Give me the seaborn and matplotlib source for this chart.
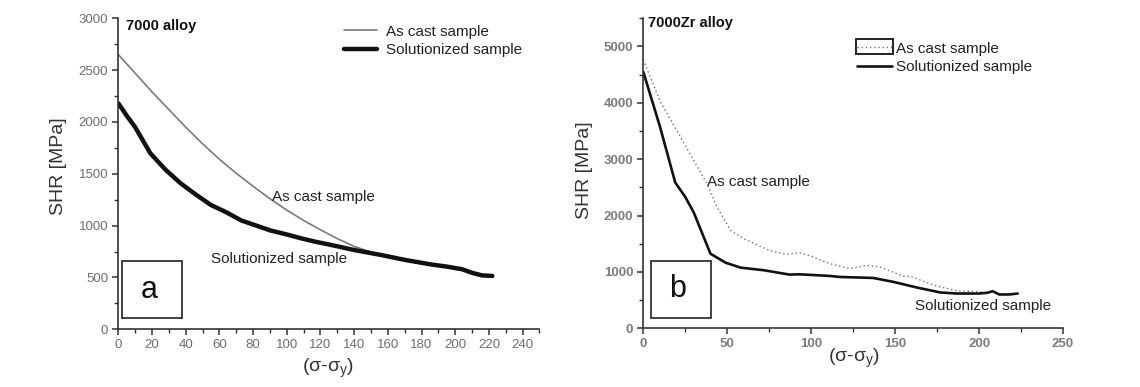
import matplotlib
matplotlib.use("Agg")
import matplotlib.pyplot as plt
from matplotlib.ticker import MultipleLocator
from matplotlib.patches import Rectangle
import seaborn as sns
import pandas as pd

# ---------------- data ----------------
# Panel a: 7000 alloy
a_cast_x = [0, 10, 20, 30, 40, 50, 60, 70, 80, 90, 100, 110, 120, 130, 140, 150, 156,
            170, 186, 195, 204, 210, 216, 222]
a_cast_y = [2650, 2470, 2290, 2120, 1950, 1790, 1640, 1505, 1380, 1260, 1150, 1050,
            960, 875, 800, 745, 717, 670, 625, 605, 580, 545, 520, 515]
a_sol_x = [0, 5, 10, 19, 28, 37, 46, 55, 64, 73, 82, 90, 100, 108, 117, 126, 140, 156,
           170, 186, 195, 204, 210, 216, 222]
a_sol_y = [2180, 2060, 1950, 1698, 1540, 1408, 1300, 1199, 1130, 1050, 1000, 955, 915, 880,
           845, 815, 765, 717, 670, 625, 605, 580, 545, 520, 515]

# Panel b: 7000Zr alloy
b_cast_x = [0, 10, 19, 28, 38, 44, 52, 60, 75, 85, 93, 100, 111, 123, 133, 141, 155, 159,
            173, 187, 200, 205]
b_cast_y = [4765, 4029, 3558, 3088, 2559, 2146, 1735, 1588, 1382, 1311, 1341, 1280, 1147,
            1059, 1117, 1087, 923, 923, 764, 664, 650, 630]
b_sol_x = [0, 10, 19, 25, 30, 40, 49, 58, 72, 87, 93, 111, 117, 137, 149, 163, 177, 187,
           200, 205, 208, 212, 218, 223]
b_sol_y = [4550, 3570, 2588, 2330, 2058, 1323, 1164, 1076, 1029, 953, 958, 929, 911, 893,
           823, 723, 635, 617, 617, 630, 658, 600, 600, 617]

legend_labels = ["As cast sample", "Solutionized sample"]
a_xticks_step, a_yticks_step = 20, 500
b_xticks_step, b_yticks_step = 50, 1000

# ---------------- style ----------------
sns.set_style("ticks")
plt.rcParams["font.family"] = ["Liberation Sans", "DejaVu Sans"]
plt.rcParams["mathtext.fontset"] = "custom"
plt.rcParams["mathtext.rm"] = "Liberation Sans"
plt.rcParams["mathtext.it"] = "Liberation Sans"

fig = plt.figure(figsize=(11.4, 3.87), dpi=100)
ax1 = fig.add_axes([0.1038, 0.149, 0.3694, 0.8037])
ax2 = fig.add_axes([0.5643, 0.1517, 0.3682, 0.801])

df_a = pd.concat([
    pd.DataFrame({"x": a_cast_x, "y": a_cast_y, "s": legend_labels[0]}),
    pd.DataFrame({"x": a_sol_x, "y": a_sol_y, "s": legend_labels[1]}),
])
df_b = pd.concat([
    pd.DataFrame({"x": b_cast_x, "y": b_cast_y, "s": legend_labels[0]}),
    pd.DataFrame({"x": b_sol_x, "y": b_sol_y, "s": legend_labels[1]}),
])

# panel a lines
sns.lineplot(data=df_a[df_a.s == legend_labels[0]], x="x", y="y", ax=ax1,
             color="#7a7a7a", lw=1.2, estimator=None, sort=False, label=legend_labels[0])
sns.lineplot(data=df_a[df_a.s == legend_labels[1]], x="x", y="y", ax=ax1,
             color="#111111", lw=3.2, estimator=None, sort=False, label=legend_labels[1])

# panel b lines
sns.lineplot(data=df_b[df_b.s == legend_labels[0]], x="x", y="y", ax=ax2,
             color="#707070", lw=1.0, ls=(0, (1, 2)), estimator=None, sort=False,
             label=legend_labels[0])
sns.lineplot(data=df_b[df_b.s == legend_labels[1]], x="x", y="y", ax=ax2,
             color="#111111", lw=1.9, estimator=None, sort=False, label=legend_labels[1])

tick_col = "#6e6e6e"
for ax, xs, ys, xlim, ylim in [
    (ax1, a_xticks_step, a_yticks_step, (0, 250), (0, 3000)),
    (ax2, b_xticks_step, b_yticks_step, (0, 250), (0, 5500)),
]:
    ax.set_xlim(*xlim)
    ax.set_ylim(*ylim)
    ax.xaxis.set_major_locator(MultipleLocator(xs))
    ax.xaxis.set_minor_locator(MultipleLocator(xs / 2))
    ax.yaxis.set_major_locator(MultipleLocator(ys))
    ax.yaxis.set_minor_locator(MultipleLocator(ys / 2))
    for s in ["top", "right"]:
        ax.spines[s].set_visible(False)
    for s in ["left", "bottom"]:
        ax.spines[s].set_color("#333333")
        ax.spines[s].set_linewidth(1.2)
    ax.tick_params(which="major", direction="out", length=4.3, width=1.1, color="#333333",
                   labelsize=9.5, labelcolor=tick_col, pad=3)
    ax.tick_params(which="minor", direction="out", length=3, width=1.0, color="#333333")
    ax.set_ylabel("SHR [MPa]", fontsize=14, color="#333333", va="center")
    ax.set_xlabel("(σ-σ$_\\mathregular{y}$)", fontsize=14, color="#333333", va="center")

ax1.yaxis.set_label_coords(-0.141, 0.525)
ax1.xaxis.set_label_coords(0.497, -0.124)
ax2.yaxis.set_label_coords(-0.140, 0.51)
ax2.xaxis.set_label_coords(0.501, -0.096)

for lab in ax2.get_xticklabels() + ax2.get_yticklabels():
    lab.set_fontweight("bold")
    lab.set_color("#7c7c7c")

# legends
leg1 = ax1.legend(loc="upper left", bbox_to_anchor=(0.536, 0.98), frameon=False,
                  fontsize=11, handlelength=2.15, handletextpad=0.6, labelspacing=0.32,
                  borderpad=0, borderaxespad=0)
leg2 = ax2.legend(loc="upper left", bbox_to_anchor=(0.509, 0.925), frameon=False,
                  fontsize=11, handlelength=2.27, handletextpad=0.26, labelspacing=0.32,
                  borderpad=0, borderaxespad=0)
for leg in (leg1, leg2):
    for t in leg.get_texts():
        t.set_color("#222222")

# box around the dotted legend handle (as in the original figure)
fig.patches.append(Rectangle((0.7509, 0.8605), 0.0322, 0.038, transform=fig.transFigure,
                             fill=False, lw=1.4, ec="#222222"))

# titles inside panels
ax1.text(0.018, 0.976, "7000 alloy", transform=ax1.transAxes, fontsize=10.5,
         fontweight="bold", ha="left", va="center", color="#111111")
ax2.text(0.012, 0.985, "7000Zr alloy", transform=ax2.transAxes, fontsize=10.5,
         fontweight="bold", ha="left", va="center", color="#111111")

# curve annotations
ax1.text(91, 1273, "As cast sample", fontsize=11, ha="left", va="center", color="#222222")
ax1.text(55.3, 675, "Solutionized sample", fontsize=11, ha="left", va="center", color="#222222")
ax2.text(37.8, 2587, "As cast sample", fontsize=11, ha="left", va="center", color="#222222")
ax2.text(161.8, 394, "Solutionized sample", fontsize=11, ha="left", va="center", color="#222222")

# panel letter boxes
ax1.add_patch(Rectangle((0.0088, 0.036), 0.142, 0.1836, transform=ax1.transAxes,
                        fill=False, lw=1.2, ec="#222222", clip_on=False))
ax1.text(0.0735, 0.126, "a", transform=ax1.transAxes, fontsize=22, ha="center",
         va="center", color="#111111")
ax2.add_patch(Rectangle((0.0176, 0.032), 0.143, 0.185, transform=ax2.transAxes,
                        fill=False, lw=1.2, ec="#222222", clip_on=False))
ax2.text(0.0825, 0.127, "b", transform=ax2.transAxes, fontsize=22, ha="center",
         va="center", color="#111111")

fig.savefig("out.png", dpi=100)
